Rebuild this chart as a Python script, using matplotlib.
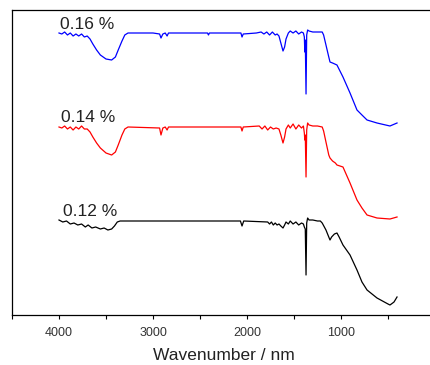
import numpy as np
import matplotlib.pyplot as plt

plt.rcParams['font.family'] = ['Liberation Sans', 'DejaVu Sans']

# FTIR-like spectra (wavenumber, transmittance a.u.)
wn_016 = [4000, 3970, 3940, 3910, 3880, 3850, 3820, 3790, 3760, 3730, 3700, 3670,
          3640, 3600, 3560, 3500, 3440, 3400, 3370, 3330, 3300, 3266, 3000, 2930,
          2915, 2895, 2870, 2850, 2835, 2420, 2410, 2400, 2065, 2053, 2040, 1900,
          1850, 1820, 1790, 1760, 1730, 1700, 1680, 1660, 1640, 1617, 1600, 1585,
          1560, 1540, 1510, 1480, 1450, 1420, 1400, 1390, 1385, 1380, 1372, 1365,
          1355, 1340, 1300, 1250, 1200, 1185, 1160, 1130, 1117, 1090, 1043, 979,
          904, 830, 777, 723, 617, 479, 404]
t_016 = [282, 281, 283, 280, 282, 279, 281, 279, 281, 278, 279, 276,
         271, 265, 260, 256, 255, 258, 265, 274, 280, 282, 282, 281,
         277, 281, 282, 279, 282, 282, 280, 282, 282, 278, 281, 282,
         283, 281, 283, 280, 283, 280, 281, 279, 272, 264, 268, 276,
         282, 284, 282, 284, 281, 283, 282, 278, 263, 275, 221, 280,
         285, 284, 283, 283, 283, 280, 270, 258, 253, 252, 250, 238,
         222, 205, 200, 195, 192, 189, 192]

wn_014 = [4000, 3970, 3940, 3910, 3880, 3850, 3820, 3790, 3760, 3730, 3700, 3670,
          3640, 3600, 3560, 3500, 3440, 3400, 3370, 3330, 3300, 3266, 2930, 2915,
          2895, 2870, 2850, 2835, 2065, 2053, 2040, 1870, 1840, 1810, 1780, 1750,
          1720, 1690, 1660, 1640, 1617, 1600, 1585, 1560, 1540, 1510, 1480, 1450,
          1420, 1400, 1390, 1385, 1380, 1372, 1365, 1355, 1340, 1300, 1250, 1200,
          1185, 1160, 1130, 1117, 1090, 1060, 1043, 1011, 979, 904, 830, 777,
          723, 617, 479, 404]
t_014 = [188, 187, 189, 186, 188, 185, 188, 186, 189, 186, 186, 183,
         178, 172, 167, 162, 160, 163, 170, 180, 186, 188, 187, 180,
         187, 188, 185, 188, 188, 184, 188, 189, 186, 189, 185, 188,
         186, 187, 186, 180, 172, 178, 186, 190, 187, 191, 186, 190,
         187, 189, 182, 175, 180, 138, 185, 192, 190, 189, 189, 188,
         184, 173, 160, 157, 154, 152, 150, 149, 148, 132, 115, 107,
         100, 97, 96, 98]

wn_012 = [4000, 3960, 3920, 3880, 3840, 3800, 3760, 3720, 3690, 3650, 3610, 3560,
          3520, 3480, 3440, 3410, 3380, 3350, 2070, 2053, 2035, 1780, 1760, 1740,
          1720, 1700, 1680, 1660, 1640, 1617, 1600, 1585, 1560, 1540, 1510, 1480,
          1450, 1420, 1400, 1390, 1380, 1372, 1365, 1355, 1340, 1300, 1250, 1220,
          1200, 1160, 1130, 1117, 1100, 1070, 1043, 1020, 979, 904, 830, 777,
          723, 617, 500, 479, 450, 436, 404]
t_012 = [95, 93, 94, 91, 92, 90, 91, 88, 90, 87, 88, 86,
         87, 85, 86, 89, 93, 94, 94, 89, 94, 93, 91, 93,
         90, 92, 90, 91, 89, 87, 90, 93, 91, 94, 91, 93,
         90, 92, 91, 88, 86, 40, 92, 97, 95, 95, 94, 94,
         92, 85, 78, 75, 78, 81, 82, 78, 70, 60, 45, 33,
         25, 17, 11, 10, 12, 13, 18]

labels = ['0.16 %', '0.14 %', '0.12 %']
label_x = [3990, 3975, 3960]
label_y = [283, 190, 96]

fig = plt.figure(figsize=(4.31, 3.65), dpi=100)
ax = fig.add_axes([12 / 431, 50 / 365, 423 / 431, 305 / 365])

ax.plot(wn_016, t_016, color='#0000ff', lw=0.9)
ax.plot(wn_014, t_014, color='#ff0000', lw=0.9)
ax.plot(wn_012, t_012, color='black', lw=0.9)

for lab, x, y in zip(labels, label_x, label_y):
    ax.text(x, y, lab, fontsize=12.5, color='#222222', ha='left', va='bottom')

ax.set_xlim(4500, 0)
ax.set_ylim(0, 305)
ax.set_xticks([4000, 3000, 2000, 1000])
ax.set_xticks([4500, 3500, 2500, 1500, 500], minor=True)
ax.set_yticks([])
ax.tick_params(axis='x', which='both', direction='out', length=3, width=0.8,
               labelsize=9, labelcolor='#333333', pad=6)
ax.set_xlabel('Wavenumber / nm', fontsize=12.5, color='#222222', labelpad=6)
for s in ax.spines.values():
    s.set_linewidth(0.9)
ax.spines['right'].set_visible(False)

fig.savefig('out.png', dpi=100)
